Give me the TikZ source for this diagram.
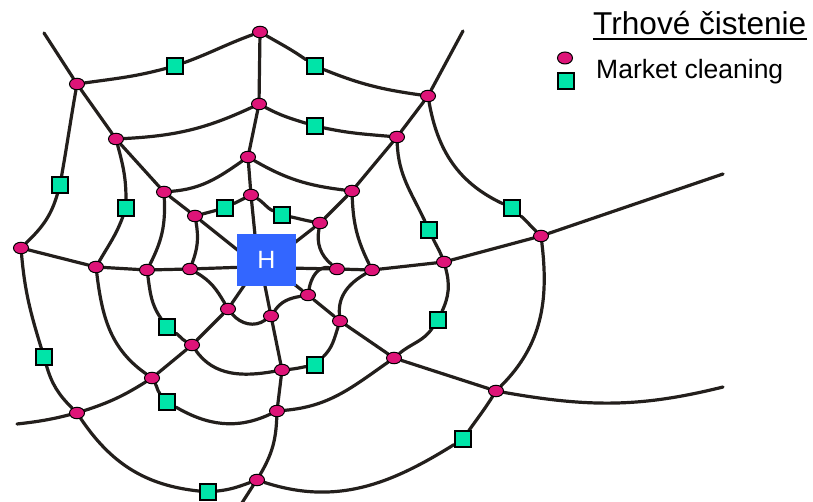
\documentclass[tikz,border=0pt]{standalone}
\usepackage{fontspec}
\setmainfont{Liberation Sans}
\usetikzlibrary{shapes.geometric}
\definecolor{webcol}{RGB}{35,31,28}
\definecolor{knotcol}{RGB}{222,20,120}
\definecolor{sqcol}{RGB}{0,228,168}
\definecolor{hblue}{RGB}{51,102,255}
\pgfdeclarelayer{bg}
\pgfsetlayers{bg,main}
\begin{document}
\begin{tikzpicture}[x=1pt,y=1pt,
  web/.style={draw=webcol, line width=3.2pt, line cap=round},
  knot/.style={ellipse, draw=black, line width=1pt, fill=knotcol, minimum width=15pt, minimum height=11.5pt, inner sep=0pt},
  sq/.style={rectangle, draw=black, line width=1.6pt, fill=sqcol, minimum width=16.5pt, minimum height=15.5pt, inner sep=0pt},
  lbl/.style={anchor=base west, inner sep=0pt}]
\useasboundingbox (0,0) rectangle (813,502);
% centre
\node[rectangle, fill=hblue, minimum width=59pt, minimum height=52pt, inner sep=0pt, text=white, font=\fontsize{25}{30}\selectfont] (H) at (266.5,242) {H};
% ring 1
\node[knot] (a1) at (251,307) {};
\node[knot] (a2) at (320,279) {};
\node[knot] (a3) at (337,233) {};
\node[knot] (a4) at (308,207) {};
\node[knot] (a5) at (271,186) {};
\node[knot] (a6) at (228,193) {};
\node[knot] (a7) at (190,233) {};
\node[knot] (a8) at (195,286) {};
% ring 2
\node[knot] (b1) at (248,345) {};
\node[knot] (b2) at (352,311) {};
\node[knot] (b3) at (372,232) {};
\node[knot] (b4) at (340,181) {};
\node[knot] (b5) at (282,132) {};
\node[knot] (b6) at (192,157) {};
\node[knot] (b7) at (147,232) {};
\node[knot] (b8) at (164,310) {};
% ring 3
\node[knot] (c1) at (259,398) {};
\node[knot] (c2) at (397,365) {};
\node[knot] (c3) at (444,240) {};
\node[knot] (c4) at (394,144) {};
\node[knot] (c5) at (277,91) {};
\node[knot] (c6) at (152,124) {};
\node[knot] (c7) at (96,235) {};
\node[knot] (c8) at (116,363) {};
% ring 4
\node[knot] (d1) at (260,470) {};
\node[knot] (d2) at (428,406) {};
\node[knot] (d3) at (541,266) {};
\node[knot] (d4) at (496,111) {};
\node[knot] (d5) at (257,22) {};
\node[knot] (d6) at (77,89) {};
\node[knot] (d7) at (21,254) {};
\node[knot] (d8) at (77,418) {};
% squares
\node[sq] (q1) at (175,436) {};
\node[sq] (q2) at (315,436) {};
\node[sq] (q3) at (512,294) {};
\node[sq] (q4) at (463,63) {};
\node[sq] (q5) at (208,10) {};
\node[sq] (q6) at (44,145) {};
\node[sq] (q7) at (60,317) {};
\node[sq] (q8) at (315,376) {};
\node[sq] (q9) at (429,272) {};
\node[sq] (q10) at (438,182) {};
\node[sq] (q11) at (167,100) {};
\node[sq] (q12) at (126,294) {};
\node[sq] (q13) at (315,137) {};
\node[sq] (q14) at (167,175) {};
\node[sq] (q15) at (225,294) {};
\node[sq] (q16) at (282,287) {};
% free ends
\coordinate (e1) at (463,471);
\coordinate (e2) at (723,328);
\coordinate (e3) at (723,115);
\coordinate (e4) at (240,-4);
\coordinate (e5) at (17,78);
\coordinate (e6) at (44,469);
% spoke roots under H
\coordinate (h1) at (256,257);
\coordinate (h2) at (284,251);
\coordinate (h3) at (285,234);
\coordinate (h4) at (285,225);
\coordinate (h5) at (263,226);
\coordinate (h6) at (250,225);
\coordinate (h7) at (248,235);
\coordinate (h8) at (250,242);
% legend
\node[lbl, font=\fontsize{31.6}{36}\selectfont] (title) at (593,467) {Trhové čistenie};
\draw[line width=2pt] ([yshift=-4pt]title.base west) -- ([yshift=-4pt]title.base east);
\node[knot, minimum width=15pt, minimum height=12pt] (lk) at (565,444) {};
\node[sq] (ls) at (566,421) {};
\node[lbl, font=\fontsize{26.5}{30}\selectfont] (mc) at (596,423) {Market cleaning};
\begin{pgfonlayer}{bg}
% spokes
\draw[web] (h1) -- (a1) -- (b1) -- (c1) -- (d1);
\draw[web] (h2) -- (a2) -- (b2) -- (c2) -- (d2) -- (e1);
\draw[web] (h3) -- (a3) -- (b3) -- (c3) -- (d3) -- (e2);
\draw[web] (h4) -- (a4) -- (b4) -- (c4) -- (d4) to[out=-10,in=194] (e3);
\draw[web] (h5) -- (a5) -- (b5) -- (c5) to[bend left=14] (d5) -- (e4);
\draw[web] (h6) -- (a6) -- (b6) -- (c6) to[bend left=7] (d6) to[bend left=5] (e5);
\draw[web] (h7) -- (a7) -- (b7) -- (c7) -- (d7);
\draw[web] (h8) -- (a8) -- (b8) -- (c8) -- (d8) -- (e6);
% ring 1
\draw[web] (a8) -- (q15) -- (a1);
\draw[web] (a1) to[out=-30,in=155] (q16) to[out=-12,in=170] (a2);
\draw[web] (a2) to[bend right=30] (a3);
\draw[web] (a3) to[out=170,in=80] (a4);
\draw[web] (a4) to[out=190,in=55] (a5);
\draw[web] (a5) to[out=215,in=-50] (a6);
\draw[web] (a6) to[out=120,in=-30] (a7);
\draw[web] (a7) to[bend right=15] (a8);
% ring 2
\draw[web] (b1) to[out=-30,in=173] (b2);
\draw[web] (b2) to[bend right=12] (b3);
\draw[web] (b3) to[out=210,in=95] (b4);
\draw[web] (b4) to[out=252,in=45] (q13) to[out=190,in=5] (b5);
\draw[web] (b5) to[out=190,in=-55] (b6);
\draw[web] (b6) to[out=150,in=-35] (q14) to[out=125,in=-82] (b7);
\draw[web] (b7) to[bend right=15] (b8);
\draw[web] (b8) to[out=5,in=215] (b1);
% ring 3
\draw[web] (c1) to[out=-28,in=163] (q8) to[out=-12,in=175] (c2);
\draw[web] (c2) to[out=-88,in=115] (q9) to[out=-65,in=112] (c3);
\draw[web] (c3) to[out=-75,in=65] (q10) to[out=-125,in=40] (c4);
\draw[web] (c4) to[out=215,in=5] (c5);
\draw[web] (c5) to[out=205,in=-30] (q11) to[out=130,in=-60] (c6);
\draw[web] (c6) to[out=145,in=-83] (c7);
\draw[web] (c7) to[out=60,in=-110] (q12) to[out=90,in=-75] (c8);
\draw[web] (c8) to[out=3,in=205] (c1);
% ring 4
\draw[web] (d8) to[out=8,in=195] (q1) to[out=20,in=200] (d1);
\draw[web] (d1) to[out=-30,in=145] (q2) to[out=-22,in=172] (d2);
\draw[web] (d2) to[out=-80,in=155] (q3) to[out=-42,in=136] (d3);
\draw[web] (d3) to[out=-83,in=45] (d4);
\draw[web] (d4) to[out=-122,in=55] (q4) to[out=212,in=-18] (d5);
\draw[web] (d5) to[out=200,in=6] (q5) to[out=174,in=-56] (d6);
\draw[web] (d6) to[out=135,in=-74] (q6) to[out=107,in=-85] (d7);
\draw[web] (d7) to[out=44,in=-106] (q7) to[out=80,in=-100] (d8);
\end{pgfonlayer}
\end{tikzpicture}
\end{document}
